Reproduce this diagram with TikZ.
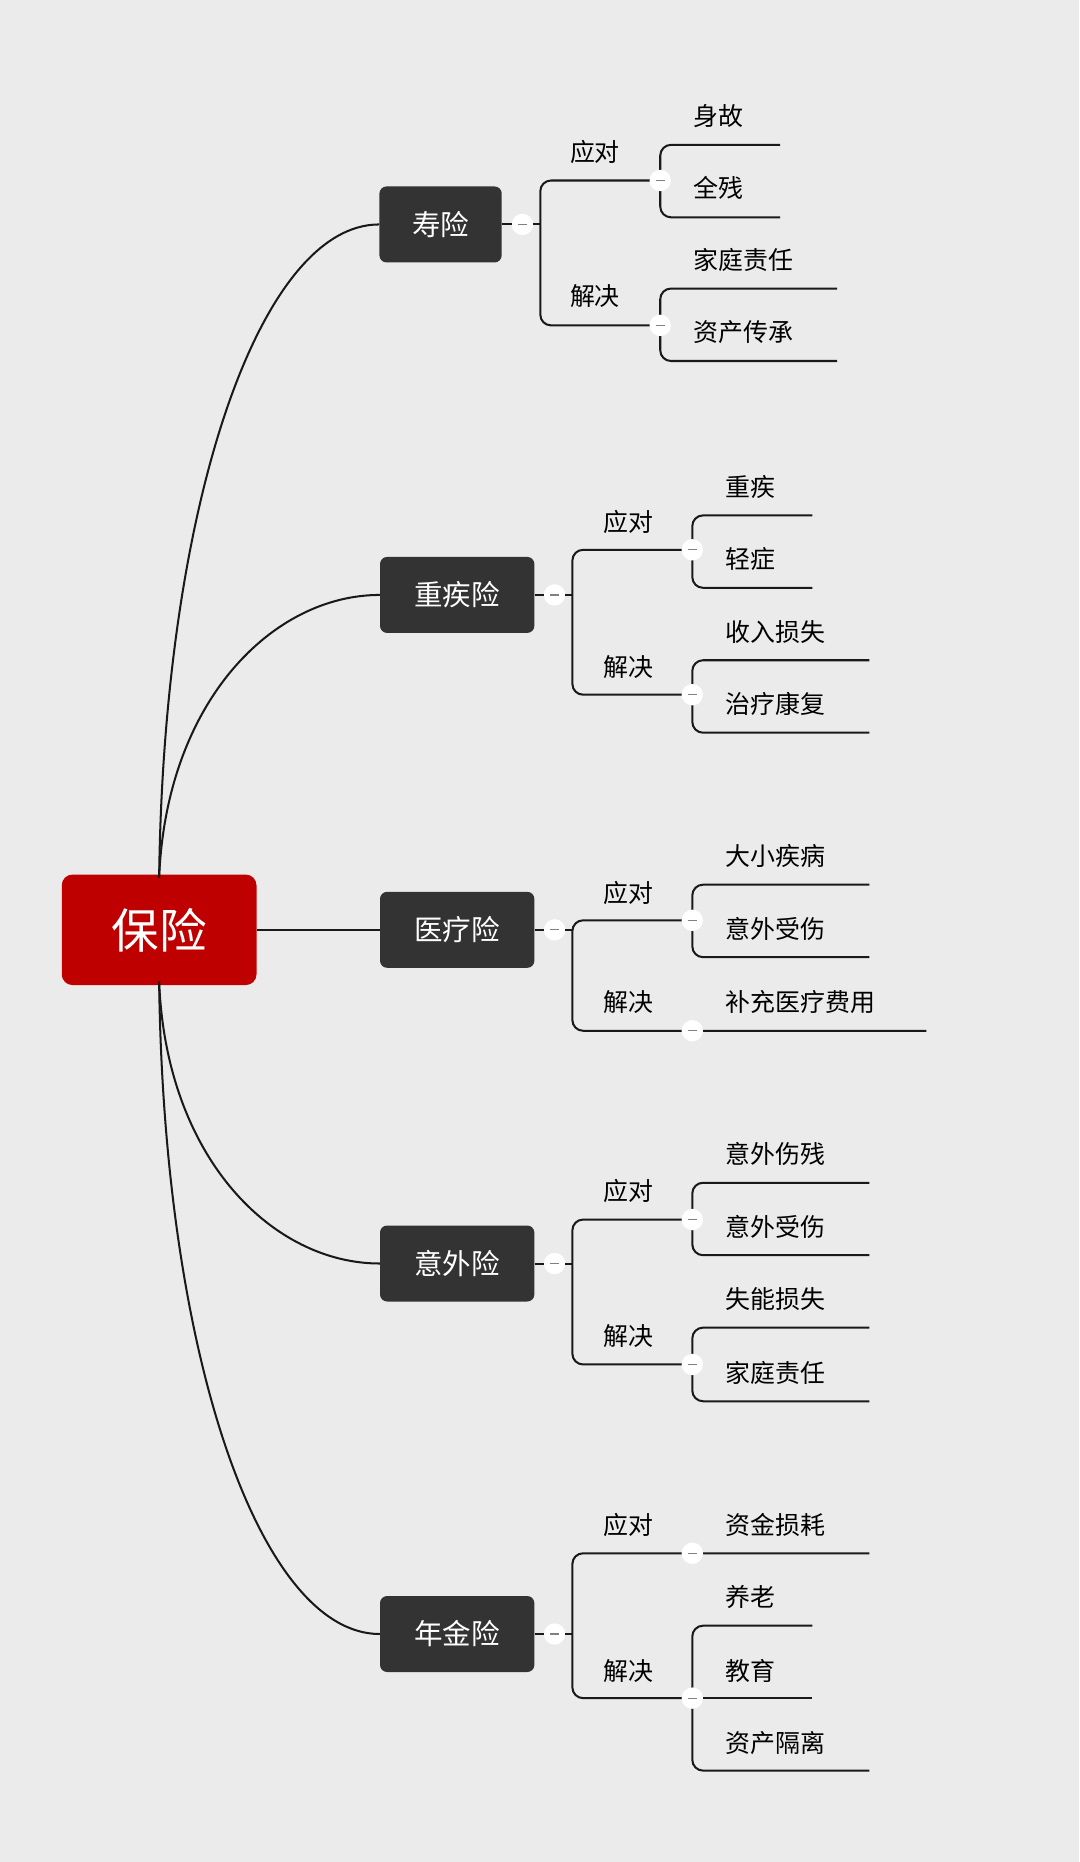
\documentclass[tikz,border=0pt]{standalone}
\usepackage{fontspec}
\setmainfont{Noto Sans CJK SC}
\usetikzlibrary{positioning}

\tikzset{
	root/.style = {rectangle, rounded corners = 9pt, fill = red!75!black, text = white, minimum width = 164pt, minimum height = 93pt, font = \fontsize{40}{46}\selectfont},
	topic/.style = {rectangle, rounded corners = 6pt, fill = black!80, text = white, minimum height = 64pt, minimum width = 130pt, font = \fontsize{24}{28}\selectfont},
	label/.style = {font = \fontsize{21}{25}\selectfont, inner sep = 1pt},
	leaf/.style = {font = \fontsize{21}{25}\selectfont, inner sep = 1pt, anchor = west},
	fold/.style = {circle, fill = white, minimum size = 18pt, inner sep = 0pt, path picture = {\draw[gray, line width = 1pt] ([xshift=-4pt]path picture bounding box.center) -- ([xshift=4pt]path picture bounding box.center);}},
	link/.style = {line width = 1.7pt, black!90, rounded corners = 9pt}
}

\begin{document}
\begin{tikzpicture}[x = 1pt, y = -1pt]
	\fill[black!8] (0,0) rectangle (909,1568);
	\useasboundingbox (0,0) rectangle (909,1568);

	% main topics
	\node[root] (baoxian) at (134,783) {保险};
	\node[topic, minimum width = 103pt] (shou) at (371,189) {寿险};
	\node[topic] (zhongji) at (385,501) {重疾险};
	\node[topic] (yiliao) at (385,783) {医疗险};
	\node[topic] (yiwai) at (385,1064) {意外险};
	\node[topic] (nianjin) at (385,1376) {年金险};

	\draw[link] ([yshift=-3pt]baoxian.north) .. controls (138,420) and (220,189) .. (shou.west);
	\draw[link] ([yshift=-3pt]baoxian.north) .. controls (140,590) and (230,501) .. (zhongji.west);
	\draw[link] (baoxian.east) -- (yiliao.west);
	\draw[link] ([yshift=3pt]baoxian.south) .. controls (140,976) and (230,1064) .. (yiwai.west);
	\draw[link] ([yshift=3pt]baoxian.south) .. controls (138,1146) and (220,1376) .. (nianjin.west);

	% 寿险
	\node[fold] (shouF) at (440,189) {};
	\draw[link] (shou.east) -- (shouF) -- (455,189);
	\draw[link] (556,152) -- (455,152) -- (455,274) -- (556,274);
	\node[label] (shouAt) at (501,128) {应对};
	\node[label] (shouBt) at (501,249) {解决};
	\node[leaf] (shen) at (583,98) {身故};
	\node[leaf] (quan) at (583,158) {全残};
	\node[leaf] (jia) at (583,219) {家庭责任};
	\node[leaf] (zi) at (583,280) {资产传承};
	\draw[link] (657,122) -- (556,122) -- (556,183) -- (657,183);
	\draw[link] (705,243) -- (556,243) -- (556,304) -- (705,304);
	\node[fold] (shouA) at (556,152) {};
	\node[fold] (shouB) at (556,274) {};

	% 重疾险
	\node[fold] (zhongjiF) at (467,501) {};
	\draw[link] (zhongji.east) -- (zhongjiF) -- (482,501);
	\draw[link] (583,463) -- (482,463) -- (482,585) -- (583,585);
	\node[label] (zhongjiAt) at (529,440) {应对};
	\node[label] (zhongjiBt) at (529,562) {解决};
	\node[leaf] (zj) at (610,410) {重疾};
	\node[leaf] (qz) at (610,471) {轻症};
	\node[leaf] (sr) at (610,532) {收入损失};
	\node[leaf] (zl) at (610,593) {治疗康复};
	\draw[link] (684,434) -- (583,434) -- (583,495) -- (684,495);
	\draw[link] (732,556) -- (583,556) -- (583,617) -- (732,617);
	\node[fold] (zhongjiA) at (583,463) {};
	\node[fold] (zhongjiB) at (583,585) {};

	% 医疗险
	\node[fold] (yiliaoF) at (467,783) {};
	\draw[link] (yiliao.east) -- (yiliaoF) -- (482,783);
	\draw[link] (583,775) -- (482,775) -- (482,868) -- (780,868);
	\node[label] (yiliaoAt) at (529,752) {应对};
	\node[label] (yiliaoBt) at (529,844) {解决};
	\node[leaf] (dx) at (610,721) {大小疾病};
	\node[leaf] (ys) at (610,782) {意外受伤};
	\node[leaf] (bc) at (610,844) {补充医疗费用};
	\draw[link] (732,745) -- (583,745) -- (583,806) -- (732,806);
	\node[fold] (yiliaoA) at (583,775) {};
	\node[fold] (yiliaoB) at (583,868) {};

	% 意外险
	\node[fold] (yiwaiF) at (467,1064) {};
	\draw[link] (yiwai.east) -- (yiwaiF) -- (482,1064);
	\draw[link] (583,1027) -- (482,1027) -- (482,1149) -- (583,1149);
	\node[label] (yiwaiAt) at (529,1003) {应对};
	\node[label] (yiwaiBt) at (529,1125) {解决};
	\node[leaf] (yc) at (610,972) {意外伤残};
	\node[leaf] (ys2) at (610,1033) {意外受伤};
	\node[leaf] (sn) at (610,1094) {失能损失};
	\node[leaf] (jt) at (610,1156) {家庭责任};
	\draw[link] (732,996) -- (583,996) -- (583,1057) -- (732,1057);
	\draw[link] (732,1118) -- (583,1118) -- (583,1180) -- (732,1180);
	\node[fold] (yiwaiA) at (583,1027) {};
	\node[fold] (yiwaiB) at (583,1149) {};

	% 年金险
	\node[fold] (nianjinF) at (467,1376) {};
	\draw[link] (nianjin.east) -- (nianjinF) -- (482,1376);
	\draw[link] (732,1308) -- (482,1308) -- (482,1430) -- (583,1430);
	\node[label] (nianjinAt) at (529,1284) {应对};
	\node[label] (nianjinBt) at (529,1407) {解决};
	\node[leaf] (js) at (610,1284) {资金损耗};
	\node[leaf] (yl) at (610,1345) {养老};
	\node[leaf] (jy) at (610,1407) {教育};
	\node[leaf] (gl) at (610,1468) {资产隔离};
	\draw[link] (684,1369) -- (583,1369) -- (583,1491) -- (732,1491);
	\draw[link] (583,1430) -- (684,1430);
	\node[fold] (nianjinA) at (583,1308) {};
	\node[fold] (nianjinB) at (583,1430) {};
\end{tikzpicture}
\end{document}
